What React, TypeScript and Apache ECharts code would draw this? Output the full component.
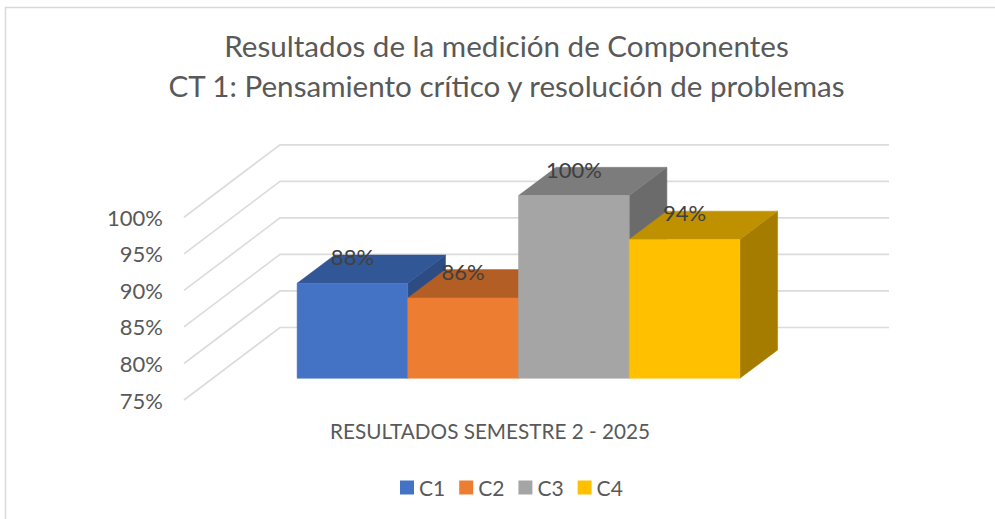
import React, { useEffect, useRef } from "react";
import * as echarts from "echarts";

const seriesNames = ["C1", "C2", "C3", "C4"];
const categoryLabels = ["RESULTADOS SEMESTRE 2 - 2025"];
const seriesValues = [88, 86, 100, 94];
const yTicks = [75, 80, 85, 90, 95, 100];
const frontColors = ["#4472C4", "#ED7D31", "#A5A5A5", "#FFC000"];
const topColors = ["#325796", "#B35E24", "#7C7C7C", "#BF9000"];
const sideColors = ["#2C4C83", "#9C5220", "#6B6B6B", "#A67C00"];
const titleLines = ["Resultados de la medición de Componentes", "CT 1: Pensamiento crítico y resolución de problemas"];

const FONT = "Lato, 'Open Sans', sans-serif";
const TEXT = "#595959";
const GRID = { left: 184, right: 793, top: 217.3, bottom: 400 };
const WALL_DX = 96;
const WALL_DY = -72.5;
const WALL_RIGHT = 889;
const BAR_W = 110.7;
const BAR_SHIFT_X = 30;
const BAR_SHIFT_Y = -21.7;
const BAR_DX = 37.7;
const BAR_DY = -28.3;

const wallItem = (_p: any, api: any) => {
  const pt = api.coord([0, api.value(0)]);
  const left = GRID.left;
  const backX = left + WALL_DX;
  const y = pt[1];
  return {
    type: "polyline",
    silent: true,
    shape: { points: [[left, y], [backX, y + WALL_DY], [WALL_RIGHT, y + WALL_DY]] },
    style: { stroke: "#DCDCDC", lineWidth: 1.7, fill: "none" },
  };
};

const barItem = (i: number) => (_p: any, api: any) => {
  const center = api.coord([0, api.value(1)]);
  const base = api.coord([0, 75]);
  const x0 = center[0] - 2 * BAR_W + i * BAR_W + BAR_SHIFT_X;
  const x1 = x0 + BAR_W;
  const yTop = center[1] + BAR_SHIFT_Y;
  const yBase = base[1] + BAR_SHIFT_Y;
  const poly = (points: number[][], fill: string) => ({
    type: "polygon",
    shape: { points },
    style: { fill, stroke: fill, lineWidth: 0.5 },
  });
  return {
    type: "group",
    children: [
      poly([[x1, yTop], [x1 + BAR_DX, yTop + BAR_DY], [x1 + BAR_DX, yBase + BAR_DY], [x1, yBase]], sideColors[i]),
      poly([[x0, yTop], [x1, yTop], [x1 + BAR_DX, yTop + BAR_DY], [x0 + BAR_DX, yTop + BAR_DY]], topColors[i]),
      poly([[x0, yTop], [x1, yTop], [x1, yBase], [x0, yBase]], frontColors[i]),
    ],
  };
};

const labelItem = (i: number) => (_p: any, api: any) => {
  const center = api.coord([0, api.value(1)]);
  const x = center[0] - 2 * BAR_W + (i + 0.5) * BAR_W + BAR_SHIFT_X;
  return {
    type: "text",
    x,
    y: center[1] + BAR_SHIFT_Y - 26.5,
    style: {
      text: `${api.value(1)}%`,
      fill: "#404040",
      font: `22px ${FONT}`,
      align: "center",
      verticalAlign: "middle",
    },
  };
};

export default function App() {
  const ref = useRef<HTMLDivElement>(null);
  useEffect(() => {
    const chart = echarts.init(ref.current!, null, { renderer: "svg" });
    chart.setOption({
      animation: false,
      backgroundColor: "#fff",
      title: {
        text: titleLines.join("\n"),
        left: 501.5,
        top: 20.5,
        textAlign: "center",
        textStyle: { color: TEXT, fontFamily: FONT, fontSize: 29.6, fontWeight: "normal", lineHeight: 40 },
      },
      legend: {
        data: seriesNames.map((name, i) => ({ name, itemStyle: { color: frontColors[i] } })),
        left: 395,
        top: 472,
        icon: "rect",
        itemWidth: 14,
        itemHeight: 14,
        itemGap: 14,
        textStyle: { color: TEXT, fontFamily: FONT, fontSize: 21, padding: [0, 0, 0, 0] },
      },
      grid: { left: GRID.left, top: GRID.top, width: GRID.right - GRID.left, height: GRID.bottom - GRID.top },
      xAxis: {
        type: "category",
        data: categoryLabels,
        axisLine: { show: false },
        axisTick: { show: false },
        axisLabel: { show: false },
      },
      yAxis: {
        type: "value",
        min: 75,
        max: 100,
        interval: 5,
        axisLine: { show: false },
        axisTick: { show: false },
        splitLine: { show: false },
        axisLabel: {
          color: TEXT,
          fontFamily: FONT,
          fontSize: 22,
          margin: 21,
          formatter: (v: number) => `${v}%`,
        },
      },
      graphic: [
        {
          type: "polyline",
          silent: true,
          shape: { points: [[5.5, 519], [5.5, 7.5], [995, 7.5]] },
          style: { stroke: "#D9D9D9", lineWidth: 1.5, fill: "none" },
        },
        {
          type: "text",
          x: 490,
          y: 431,
          style: {
            text: categoryLabels[0],
            fill: TEXT,
            font: `20.7px ${FONT}`,
            align: "center",
            verticalAlign: "middle",
          },
        },
      ],
      series: [
        {
          type: "custom",
          name: "walls",
          coordinateSystem: "cartesian2d",
          data: yTicks.map((t) => [t]),
          encode: { y: 0 },
          renderItem: wallItem,
          silent: true,
          z: 1,
        },
        ...seriesNames.map((name, i) => ({
          type: "custom",
          name,
          coordinateSystem: "cartesian2d",
          data: [[categoryLabels[0], seriesValues[i]]],
          encode: { x: 0, y: 1 },
          renderItem: barItem(i),
          itemStyle: { color: frontColors[i] },
          z: 2 + i,
        })),
        ...seriesNames.map((name, i) => ({
          type: "custom",
          name,
          coordinateSystem: "cartesian2d",
          data: [[categoryLabels[0], seriesValues[i]]],
          encode: { x: 0, y: 1 },
          renderItem: labelItem(i),
          itemStyle: { color: frontColors[i] },
          z: 10,
        })),
      ],
    });
    return () => chart.dispose();
  }, []);
  return <div ref={ref} style={{ position: "absolute", left: 0, top: 0, width: 995, height: 519 }} />;
}
